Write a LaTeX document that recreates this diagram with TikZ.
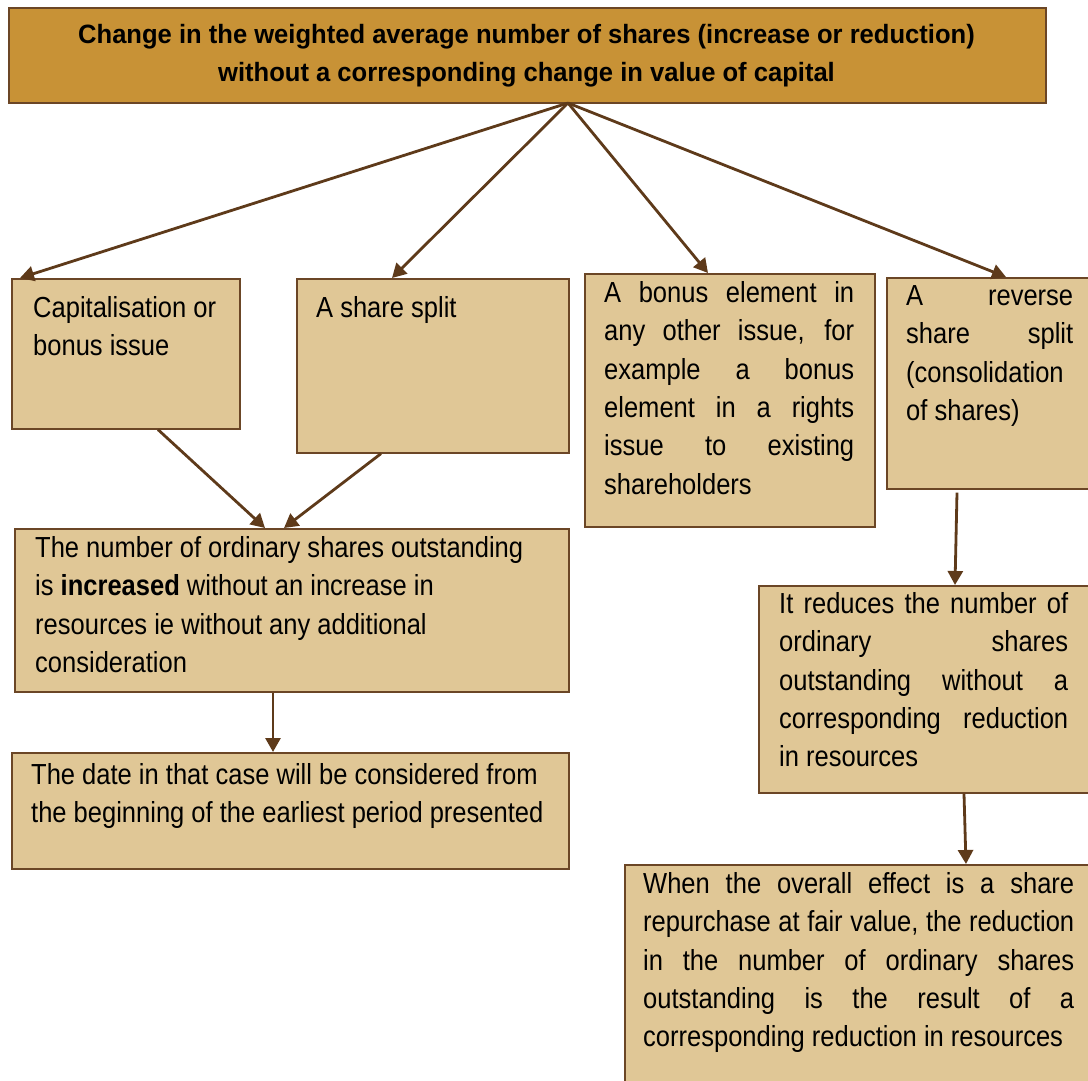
\documentclass[tikz,border=0pt]{standalone}
\usepackage{fontspec}
\setmainfont[FakeStretch=0.88]{Liberation Sans}
\newfontfamily\topfont[FakeStretch=0.965]{Liberation Sans}
\usetikzlibrary{arrows.meta,calc}
\definecolor{topfill}{HTML}{C89236}
\definecolor{boxfill}{HTML}{E0C796}
\definecolor{boxline}{HTML}{6B4626}
\definecolor{arrcol}{HTML}{5E3A1A}
\newcommand\fst{\rule{0pt}{24pt}}
\begin{document}
\begin{tikzpicture}[x=1pt,y=-1pt,
  box/.style={draw=boxline, line width=1.6pt, fill=boxfill, inner sep=0pt, anchor=north west},
  topbox/.style={box, fill=topfill},
  txt/.style={inner sep=0pt, anchor=north west, font=\fontsize{29}{38.4}\selectfont, align=justify},
  ltxt/.style={txt, align=flush left},
  arr/.style={draw=arrcol, line width=2.8pt, -{Triangle[length=14pt,width=15pt]}}]
\useasboundingbox (0,0) rectangle (1088,1080);
\clip (0,0) rectangle (1088,1080);
% boxes
\node[topbox, minimum width=1037pt, minimum height=95pt] (top) at (8,7) {};
\node[box, minimum width=228pt, minimum height=150pt] (bA) at (11,278) {};
\node[box, minimum width=272pt, minimum height=174pt] (bB) at (296,278) {};
\node[box, minimum width=290pt, minimum height=253pt] (bC) at (584,273) {};
\node[box, minimum width=210pt, minimum height=211pt] (bD) at (886,277) {};
\node[box, minimum width=554pt, minimum height=163pt] (bE) at (14,528) {};
\node[box, minimum width=557pt, minimum height=116pt] (bF) at (11,752) {};
\node[box, minimum width=340pt, minimum height=207pt] (bG) at (758,585) {};
\node[box, minimum width=474pt, minimum height=230pt] (bH) at (624,864) {};
% texts
\node[inner sep=0pt, anchor=north, align=center, font=\topfont\bfseries\fontsize{26.5}{38}\selectfont] (tT) at (526.5,19)
  {\fst Change in the weighted average number of shares (increase or reduction)\\ without a corresponding change in value of capital};
\node[ltxt, text width=205pt] (tA) at (33,293) {\fst Capitalisation or\\ bonus issue};
\node[ltxt, text width=240pt] (tB) at (316,293) {\fst A share split};
\node[txt, text width=250pt] (tC) at (604,278)
  {\fst A bonus element in\linebreak any other issue, for\linebreak example a bonus\linebreak element in a rights\linebreak issue to existing\linebreak shareholders};
\node[txt, text width=167pt] (tD) at (906,281)
  {\fst A reverse\linebreak share split\linebreak (consolidation\linebreak of shares)};
\node[ltxt, text width=520pt] (tE) at (35,533)
  {\fst The number of ordinary shares outstanding\\ is \textbf{increased} without an increase in\\ resources ie without any additional\\ consideration};
\node[ltxt, text width=530pt] (tF) at (31,760)
  {\fst The date in that case will be considered from\\ the beginning of the earliest period presented};
\node[txt, text width=289pt] (tG) at (779,589)
  {\fst It reduces the number of\linebreak ordinary shares\linebreak outstanding without a\linebreak corresponding reduction\linebreak in resources};
\node[txt, text width=431pt] (tH) at (643,869)
  {\fst When the overall effect is a share\linebreak repurchase at fair value, the reduction\linebreak in the number of ordinary shares\linebreak outstanding is the result of a\linebreak corresponding reduction in resources};
% connectors
\coordinate (hub) at (568,103);
\draw[arr] (hub) -- ($(bA.north west)+(9,0)$);
\draw[arr] (hub) -- ($(bB.north west)+(96,0)$);
\draw[arr] (hub) -- ($(bC.north west)+(124,0)$);
\draw[arr] (hub) -- ($(bD.north west)+(120,0)$);
\draw[arr] ($(bA.south west)+(147,0)$) -- ($(bE.north west)+(251,0)$);
\draw[arr] ($(bB.south west)+(85,0)$) -- ($(bE.north west)+(270,0)$);
\draw[arr] ($(bE.south west)+(259,0)$) -- ($(bF.north west)+(262,0)$);
\draw[arr] ($(bD.south west)+(71,3)$) -- ($(bG.north west)+(197,0)$);
\draw[arr] ($(bG.south west)+(206,0)$) -- ($(bH.north west)+(342,0)$);
\end{tikzpicture}
\end{document}
